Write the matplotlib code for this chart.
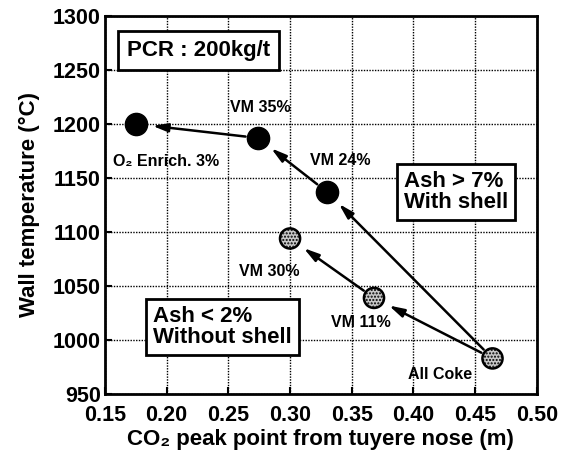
import numpy as np
import matplotlib.pyplot as plt

plt.rcParams['font.family'] = ['Liberation Sans', 'DejaVu Sans']
plt.rcParams['font.weight'] = 'bold'

# with shell (Ash > 7%): All Coke -> VM 24% -> VM 35% -> O2 Enrich.
shell_x = [0.464, 0.330, 0.274, 0.175]
shell_y = [983, 1137, 1187, 1200]
# without shell (Ash < 2%): All Coke -> VM 11% -> VM 30%
noshell_x = [0.464, 0.368, 0.300]
noshell_y = [983, 1039, 1094]

point_labels = ['All Coke', 'VM 11%', 'VM 30%', 'VM 24%', 'VM 35%', 'O\u2082 Enrich. 3%']
label_pos = [(0.4215, 968), (0.357, 1016), (0.283, 1063), (0.341, 1166), (0.276, 1215), (0.1994, 1165)]

xticks = [0.15, 0.20, 0.25, 0.30, 0.35, 0.40, 0.45, 0.50]
yticks = [950, 1000, 1050, 1100, 1150, 1200, 1250, 1300]

fig = plt.figure(figsize=(5.7, 4.54), dpi=100)
ax = fig.add_axes([0.184, 0.132, 0.758, 0.833])

ax.set_xlim(0.15, 0.50)
ax.set_ylim(950, 1300)
ax.set_xticks(xticks)
ax.set_xticklabels(['%.2f' % t for t in xticks])
ax.set_yticks(yticks)
ax.grid(True, color='black', linestyle=(0, (1, 1)), linewidth=1)
ax.tick_params(direction='in', length=5, width=1.5, labelsize=15.5)
ax.tick_params(axis='x', pad=8)
ax.tick_params(axis='y', pad=3)
for s in ax.spines.values():
    s.set_linewidth(2)

def arrows(xs, ys):
    for i in range(len(xs) - 1):
        ax.annotate('', xy=(xs[i + 1], ys[i + 1]), xytext=(xs[i], ys[i]),
                    arrowprops=dict(arrowstyle='-|>,head_length=0.9,head_width=0.25',
                                    color='black', lw=1.8, shrinkA=9, shrinkB=12),
                    zorder=2)

arrows(shell_x, shell_y)
arrows(noshell_x, noshell_y)

ax.plot(shell_x[1:], shell_y[1:], 'o', ms=16, mfc='black', mec='black', zorder=3)
ax.scatter(noshell_x, noshell_y, s=210, facecolor='#c8c8c8', edgecolor='black',
           linewidth=1.8, hatch='.....', zorder=4)

for t, (px, py) in zip(point_labels, label_pos):
    ax.text(px, py, t, fontsize=11.5, ha='center', va='center', zorder=5)

box = dict(boxstyle='square,pad=0.4', facecolor='white', edgecolor='black', linewidth=2)
box2 = dict(boxstyle='square,pad=0.32', facecolor='white', edgecolor='black', linewidth=2)
ax.text(0.226, 1268, 'PCR : 200kg/t', fontsize=16, ha='center', va='center', bbox=box, zorder=5)
ax.text(0.4344, 1137, 'Ash > 7%\nWith shell', fontsize=16, ha='center', va='center',
        multialignment='left', bbox=box2, linespacing=0.95, zorder=5)
ax.text(0.2452, 1012, 'Ash < 2%\nWithout shell', fontsize=16, ha='center', va='center',
        multialignment='left', bbox=box2, linespacing=0.95, zorder=5)

ax.set_xlabel('CO\u2082 peak point from tuyere nose (m)', fontsize=16, fontweight='bold', labelpad=2)
ax.set_ylabel('Wall temperature (\u00b0C)', fontsize=16, fontweight='bold', labelpad=9)

fig.savefig('out.png', dpi=100)
